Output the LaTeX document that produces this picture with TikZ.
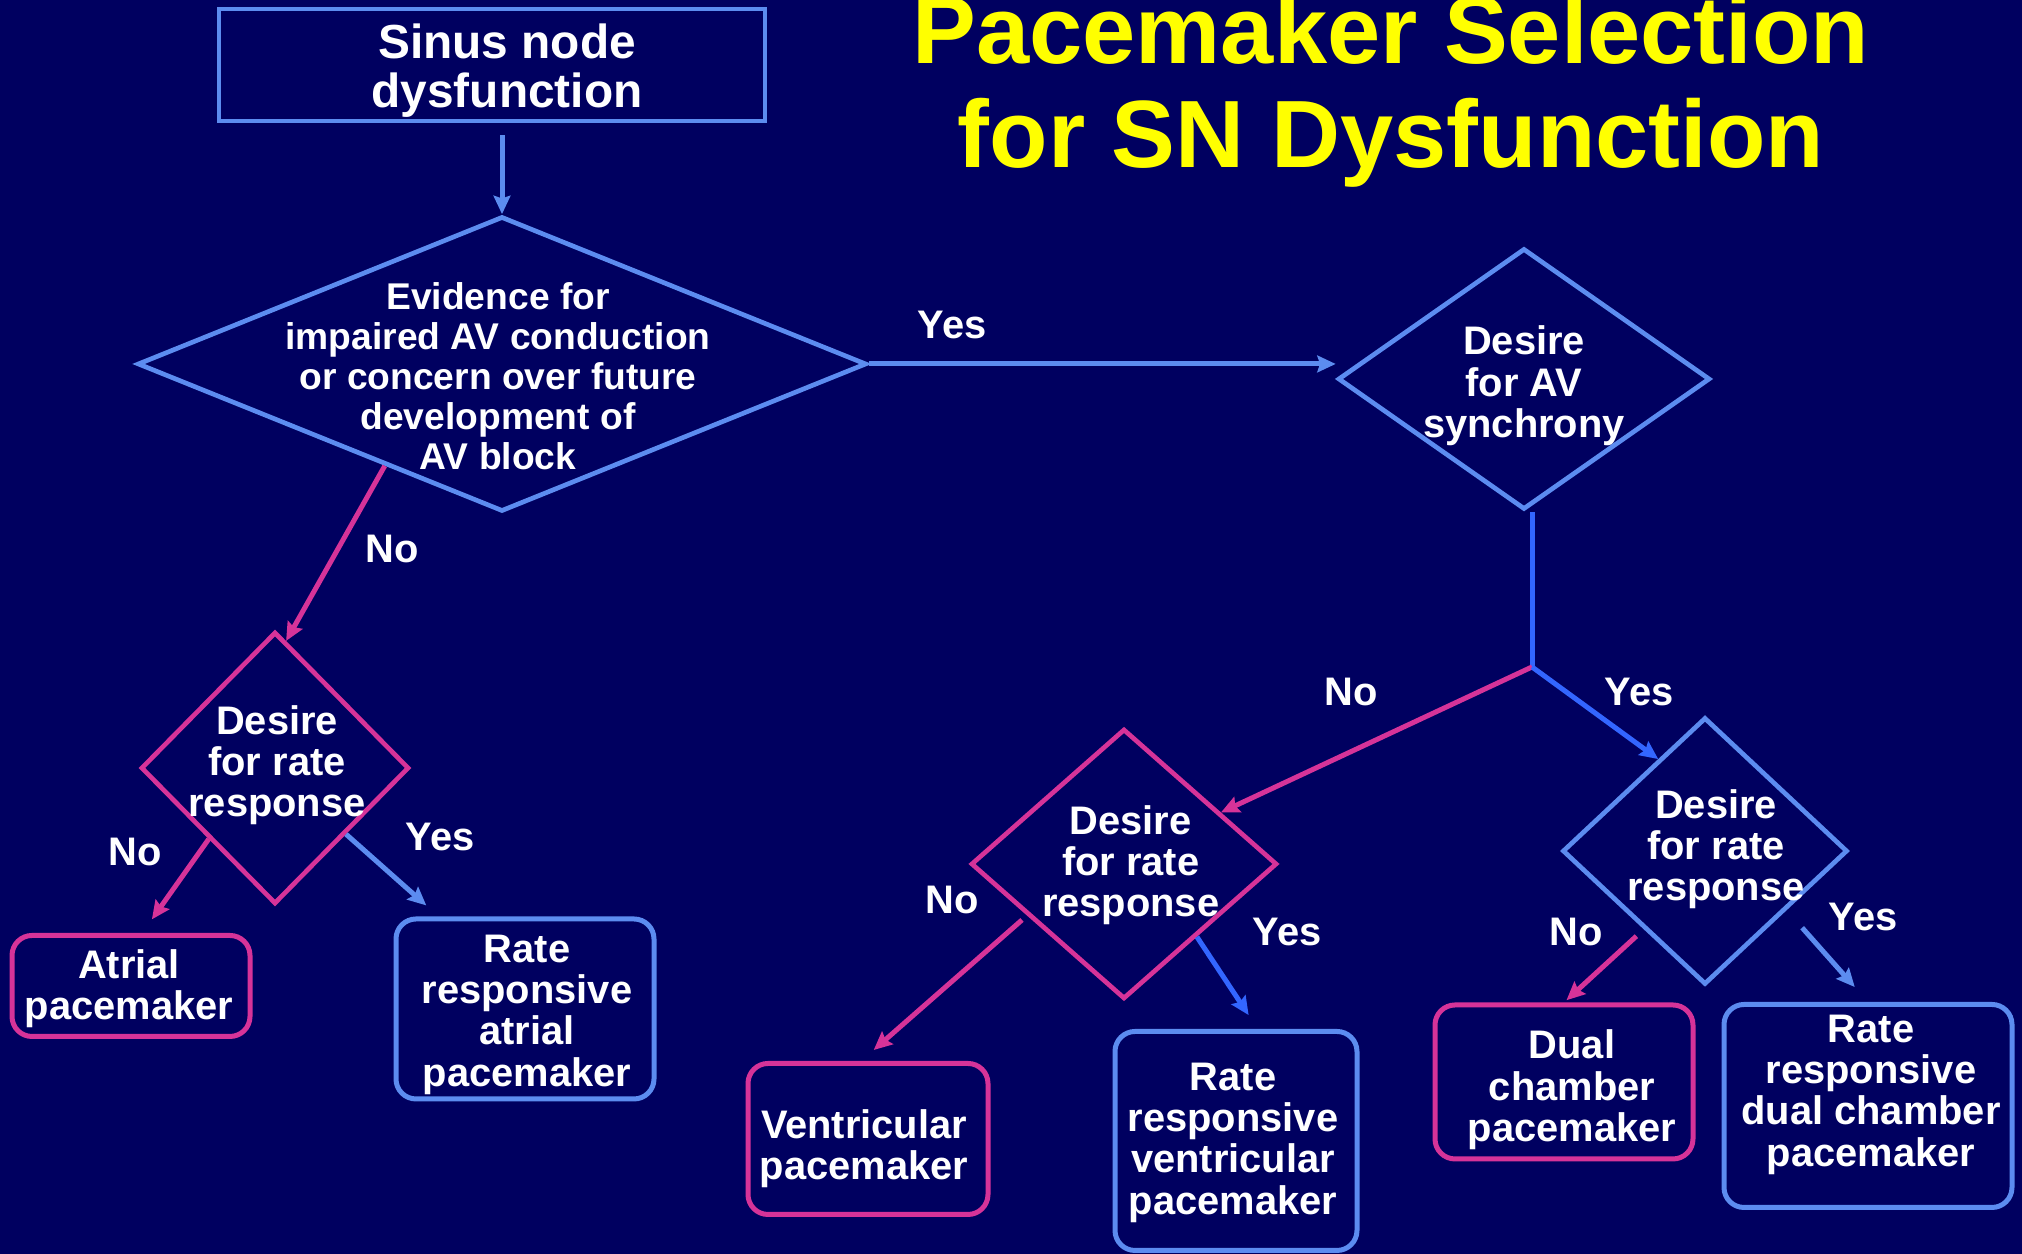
\documentclass[tikz,border=0pt]{standalone}
\usepackage{fontspec}
\setmainfont{Liberation Sans}
\usetikzlibrary{arrows,arrows.meta,shapes.geometric}
\definecolor{navy}{rgb}{0.0,0.0,0.376}
\definecolor{paleblue}{rgb}{0.36,0.55,0.94}
\definecolor{brightblue}{rgb}{0.2,0.4,1.0}
\definecolor{pinkline}{rgb}{0.84,0.2,0.6}
\definecolor{titleyellow}{rgb}{1.0,1.0,0.0}
% text of a shape, with no size of its own: shift x, raise, lines
\newcommand\flowtext[3]{\smash{\makebox[0pt]{\kern#1\raisebox{#2}{\begin{tabular}{@{}c@{}}#3\end{tabular}}\kern-#1}}}

\begin{document}
\begin{tikzpicture}[>={Stealth[length=5.5bp,width=5bp,inset=0.8bp]},scale=0.3,
    decision/.style={draw=#1,diamond,inner sep=0pt,line width=1.4bp,text=white,
      font=\fontsize{12}{12.4}\selectfont\bfseries},
    outcome/.style={draw=#1,rectangle,rounded corners=6bp,inner sep=0pt,line width=1.5bp,text=white,
      font=\fontsize{12}{12.4}\selectfont\bfseries},
    branch/.style={draw=#1,line width=1.5bp,->},
    answer/.style={text=white,inner sep=0pt,font=\fontsize{12}{12}\selectfont\bfseries}]
      %%
      \useasboundingbox (0bp,0bp) rectangle (2022bp,1254bp);
      \begin{scope}
        \pgfsetfillcolor{navy}
        \fill (0bp,0bp) -- (0bp,1254bp) -- (2022bp,1254bp) -- (2022bp,0bp) -- cycle;
      \end{scope}
      \node (title) at (1391bp,1163bp) [text=titleyellow,align=center,inner sep=0pt,
        font=\fontsize{28.8}{31.3}\selectfont\bfseries] {Pacemaker Selection\\for SN Dysfunction};
      \node (sinus) at (492bp,1189bp) [draw=paleblue,line width=1.4bp,inner sep=0pt,text=white,
        minimum width=163.8bp,minimum height=33.6bp,font=\fontsize{14.4}{14.4}\selectfont\bfseries]
        {\flowtext{4.5bp}{-5.9pt}{Sinus node\\dysfunction}};
      \node (d1) at (502bp,890bp) [decision=paleblue,minimum width=218.7bp,minimum height=88.5bp,
        font=\fontsize{11.2}{12}\selectfont\bfseries]
        {\flowtext{-1.2bp}{-8pt}{Evidence for\\impaired AV conduction\\or concern over future\\development of\\AV block}};
      \node (d2) at (1524bp,875bp) [decision=paleblue,minimum width=111.6bp,minimum height=78.3bp]
        {\flowtext{0pt}{-5.7pt}{Desire\\for AV\\synchrony}};
      \node (d3) at (1124bp,390bp) [decision=pinkline,minimum width=91.8bp,minimum height=81bp]
        {\flowtext{2bp}{-3.9pt}{Desire\\for rate\\response}};
      \node (d4) at (1705bp,403bp) [decision=paleblue,minimum width=85.5bp,minimum height=80.1bp]
        {\flowtext{3.3bp}{-3pt}{Desire\\for rate\\response}};
      \node (d5) at (275bp,486bp) [decision=pinkline,minimum width=80.4bp,minimum height=81.6bp]
        {\flowtext{0.6bp}{-2.7pt}{Desire\\for rate\\response}};
      \node (atrial) at (131bp,268bp) [outcome=pinkline,minimum width=71.4bp,minimum height=30.3bp]
        {\flowtext{-0.6bp}{-4.5pt}{Atrial\\pacemaker}};
      \node (ratrial) at (525bp,245bp) [outcome=paleblue,minimum width=77.4bp,minimum height=54bp]
        {\flowtext{0.6bp}{-5.1pt}{Rate\\responsive\\atrial\\pacemaker}};
      \node (vent) at (868bp,115bp) [outcome=pinkline,minimum width=72bp,minimum height=45.3bp]
        {\flowtext{-1.2bp}{-6.6pt}{Ventricular\\pacemaker}};
      \node (rvent) at (1236bp,113bp) [outcome=paleblue,minimum width=72.6bp,minimum height=65.7bp]
        {\flowtext{-0.9bp}{-3.9pt}{Rate\\responsive\\ventricular\\pacemaker}};
      \node (dual) at (1564bp,172bp) [outcome=pinkline,minimum width=77.4bp,minimum height=46.2bp]
        {\flowtext{2.4bp}{-6pt}{Dual\\chamber\\pacemaker}};
      \node (rdual) at (1868bp,148bp) [outcome=paleblue,minimum width=86.4bp,minimum height=60.9bp]
        {\flowtext{0.9bp}{0pt}{Rate\\responsive\\dual chamber\\pacemaker}};
      \coordinate (fork) at (1532bp,587bp);
      %% connectors
      \draw [branch=paleblue,shorten <=3.6bp] (sinus.south -| d1.north) -- (d1.north);
      \draw [branch=paleblue] (d1.east) -- (d1.east -| d2.west);
      \draw (952bp,929bp) node[answer] (yes1) {Yes};
      \draw [branch=pinkline] (d1.221) -- (d5.85);
      \draw (392bp,705bp) node[answer] (no1) {No};
      \draw [branch=brightblue,-] (d2.south -| fork) -- (fork);
      \draw [branch=pinkline] (fork) -- (d3.28);
      \draw (1351bp,562bp) node[answer] (no2) {No};
      \draw [branch=brightblue] (fork) -- (d4.117);
      \draw (1639bp,562bp) node[answer] (yes2) {Yes};
      \draw [branch=pinkline,shorten >=5bp] (d5.227) -- (atrial.78);
      \draw (135bp,402bp) node[answer] (no3) {No};
      \draw [branch=paleblue,shorten >=5bp] (d5.-43) -- (ratrial.133);
      \draw (440bp,417bp) node[answer] (yes3) {Yes};
      \draw [branch=pinkline,shorten <=2bp,shorten >=5bp] (d3.208) -- (vent.95);
      \draw (952bp,354bp) node[answer] (no4) {No};
      \draw [branch=brightblue,shorten >=5bp] (d3.-45) -- (rvent.79);
      \draw (1287bp,322bp) node[answer] (yes4) {Yes};
      \draw [branch=pinkline,shorten <=3bp,shorten >=1bp] (d4.232) -- (dual.north);
      \draw (1576bp,322bp) node[answer] (no5) {No};
      \draw [branch=paleblue,shorten <=7bp,shorten >=6bp] (d4.-36) -- (rdual.north);
      \draw (1863bp,337bp) node[answer] (yes5) {Yes};
    \end{tikzpicture}
\end{document}
